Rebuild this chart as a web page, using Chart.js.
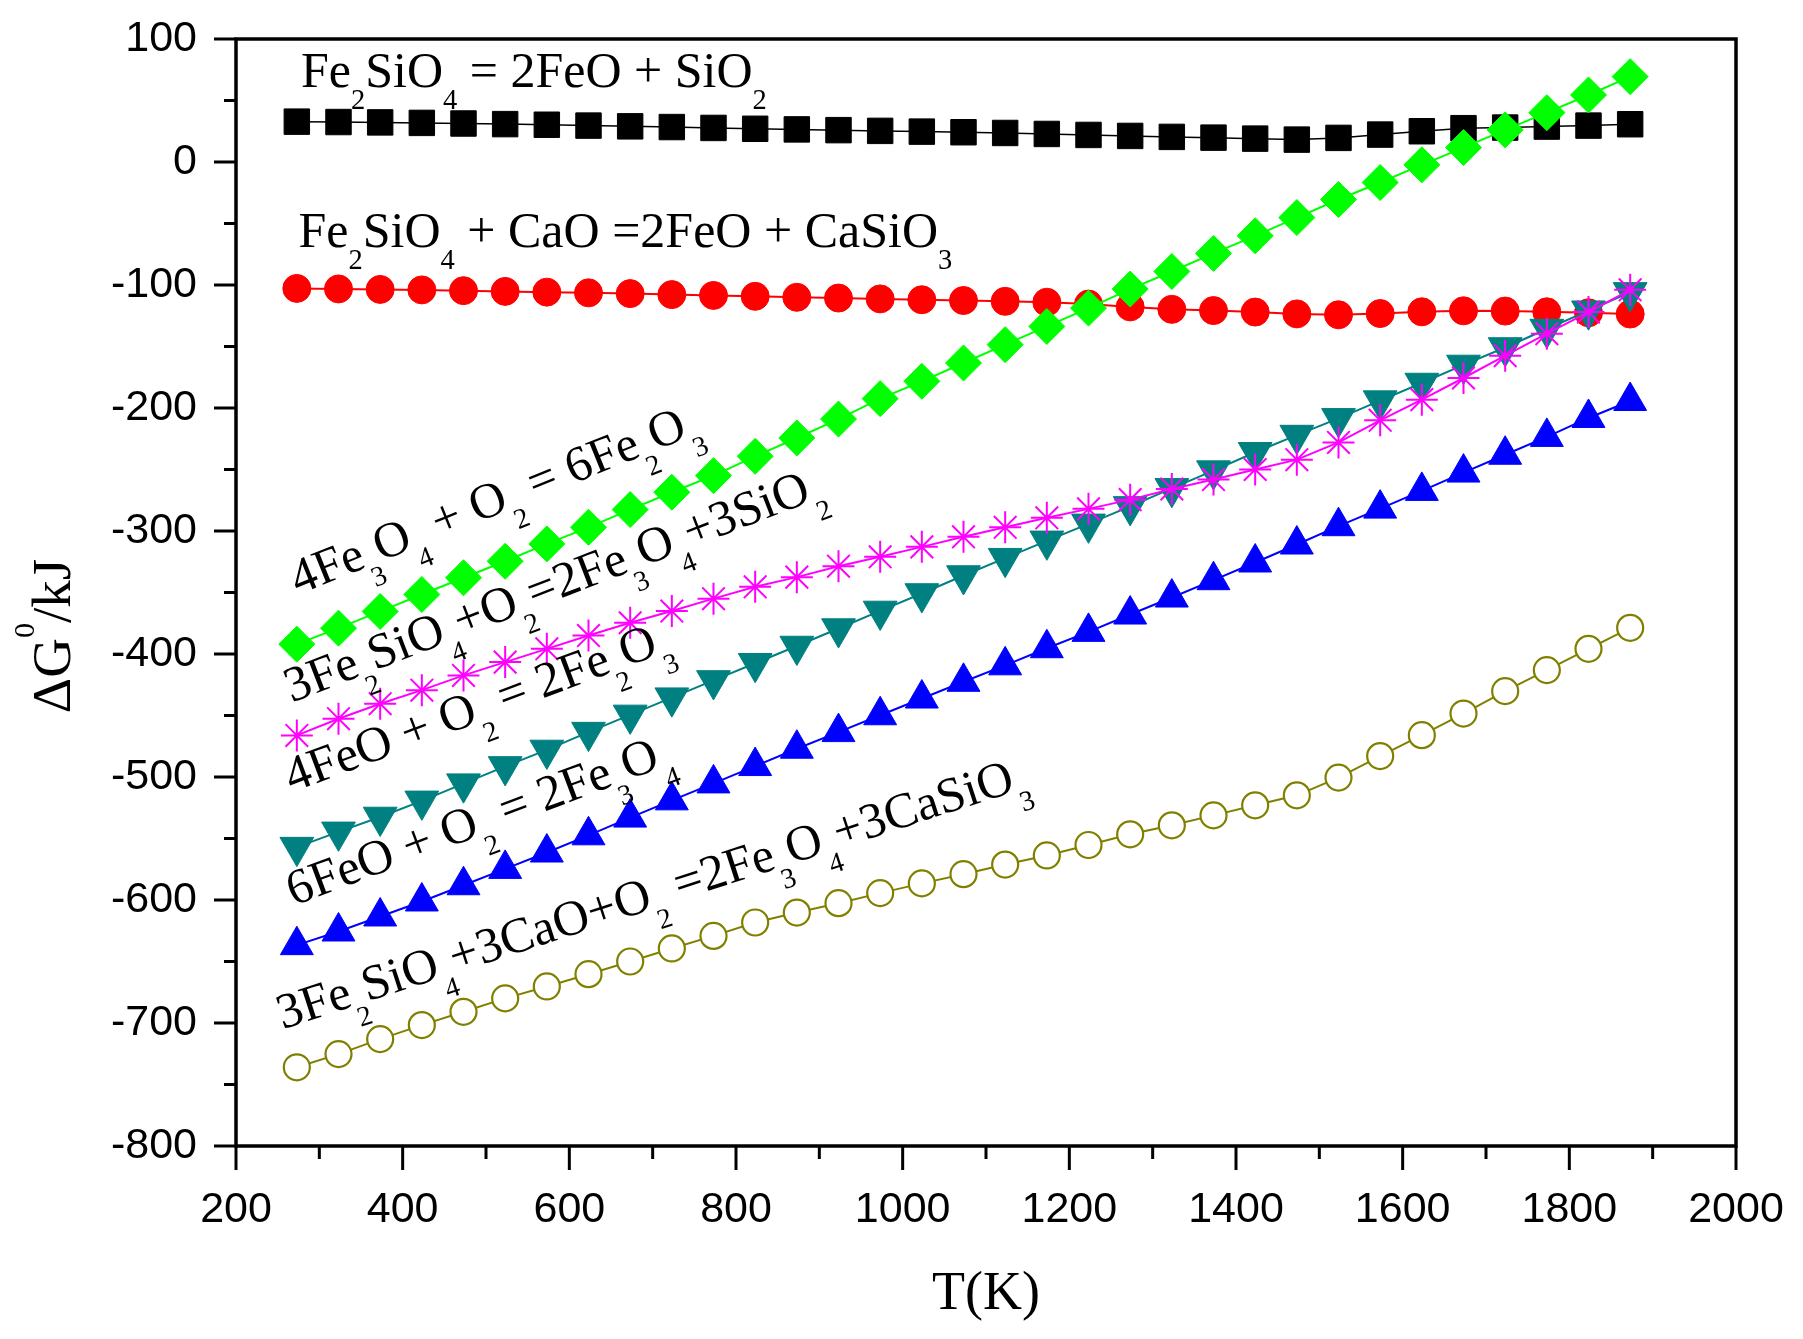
<!DOCTYPE html>
<html>
<head>
<meta charset="utf-8">
<script src="https://cdn.jsdelivr.net/npm/chart.js@4.4.1/dist/chart.umd.min.js"></script>
<style>
  html, body { margin: 0; padding: 0; background: #fff; }
  canvas { display: block; }
</style>
</head>
<body>
<canvas id="graficoG" width="1803" height="1339"></canvas>
<script>
// Temperaturas (K)
const temperaturas = [273, 323, 373, 423, 473, 523, 573, 623, 673, 723, 773, 823, 873, 923, 973, 1023,
  1073, 1123, 1173, 1223, 1273, 1323, 1373, 1423, 1473, 1523, 1573, 1623, 1673, 1723, 1773, 1823, 1873];

// ΔG0 (kJ) de cada reacción
const fe2sio4_feo_sio2 = [32.8, 32.5, 32.2, 31.8, 31.3, 30.8, 30.3, 29.6, 29.0, 28.4, 27.7, 27.0, 26.5, 25.9, 25.3, 24.7,
  24.2, 23.6, 22.8, 22.0, 21.2, 20.4, 19.8, 19.0, 18.2, 19.6, 22.3, 25.0, 27.5, 28.0, 28.8, 29.6, 30.7];
const fe2sio4_cao = [-102.8, -103.2, -103.6, -104.0, -104.6, -105.2, -105.8, -106.4, -107.0, -107.8, -108.5, -109.2, -110.0, -110.6, -111.3, -112.0,
  -112.6, -113.3, -114.0, -115.5, -117.8, -119.8, -120.8, -122.0, -123.5, -124.2, -123.2, -121.8, -121.0, -121.2, -121.8, -122.6, -123.6];
const fe3o4_fe2o3 = [-392.0, -379.0, -365.4, -351.6, -338.0, -324.6, -310.5, -297.0, -282.6, -268.5, -255.0, -239.3, -224.4, -209.0, -192.4, -178.3,
  -163.4, -148.5, -133.7, -118.8, -103.3, -89.0, -74.3, -60.0, -45.2, -30.5, -16.7, -2.3, 11.7, 26.1, 40.1, 54.5, 69.4];
const fe2sio4_fe3o4 = [-466.2, -452.6, -440.4, -429.4, -417.4, -406.6, -395.8, -385.0, -374.6, -365.1, -355.0, -345.4, -337.5, -328.6, -321.0, -312.9,
  -304.7, -297.0, -289.3, -282.0, -274.5, -265.8, -258.2, -250.0, -242.0, -228.0, -210.0, -193.2, -175.6, -157.5, -139.6, -122.0, -103.9];
const feo_fe2o3 = [-557.0, -544.6, -532.5, -519.4, -505.4, -491.4, -478.0, -463.5, -449.5, -435.5, -421.5, -407.5, -393.5, -379.3, -365.0, -350.8,
  -336.2, -322.1, -308.0, -294.2, -280.0, -265.3, -250.9, -236.0, -222.0, -208.4, -194.0, -179.7, -165.0, -150.8, -135.8, -120.9, -106.0];
const feo_fe3o4 = [-636.7, -625.6, -613.4, -601.2, -588.0, -574.7, -561.4, -547.4, -533.0, -519.0, -505.2, -491.1, -477.0, -463.5, -449.8, -436.2,
  -422.6, -409.2, -395.3, -382.0, -367.9, -354.1, -340.0, -325.6, -311.0, -296.1, -281.8, -267.4, -252.5, -238.0, -223.5, -208.1, -194.3];
const fe2sio4_cao_o2 = [-736.0, -725.3, -713.1, -701.7, -690.9, -680.0, -670.3, -660.3, -650.0, -639.4, -629.2, -618.3, -610.2, -602.6, -594.4, -586.5,
  -579.0, -571.2, -563.8, -555.3, -546.6, -539.3, -531.2, -523.0, -514.9, -500.5, -483.0, -466.0, -448.4, -430.2, -413.1, -395.8, -378.7];

// Textos de las reacciones ("_" = subíndice)
const reacciones = [
  'Fe_2SiO_4 = 2FeO + SiO_2',
  'Fe_2SiO_4 + CaO =2FeO + CaSiO_3',
  '4Fe_3O_4 + O_2 = 6Fe_2O_3',
  '3Fe_2SiO_4+O_2=2Fe_3O_4+3SiO_2',
  '4FeO + O_2 = 2Fe_2O_3',
  '6FeO + O_2 = 2Fe_3O_4',
  '3Fe_2SiO_4+3CaO+O_2 =2Fe_3O_4+3CaSiO_3'
];
// ubicación de cada texto (T, ΔG) y ángulo
const posReacciones = [
  [278, 60.8, 0],
  [275, -68.7, 0],
  [274.4, -352, -22],
  [267, -439.6, -21.2],
  [267, -512.7, -20.6],
  [269, -604.8, -20.6],
  [256, -705, -18]
];

const serif = '"Liberation Serif", "Times New Roman", serif';
const sans = '"Liberation Sans", Arial, sans-serif';

function pares(valores) {
  return temperaturas.map((t, i) => ({ x: t, y: valores[i] }));
}

// separa el texto en tramos normales / subíndice / superíndice
function tramos(str) {
  const out = [];
  let buf = '';
  for (let i = 0; i < str.length; i++) {
    const ch = str[i];
    if ((ch === '_' || ch === '^') && i + 1 < str.length) {
      if (buf) { out.push({ t: buf, k: 'n' }); buf = ''; }
      out.push({ t: str[++i], k: ch === '_' ? 'sub' : 'sup' });
    } else {
      buf += ch;
    }
  }
  if (buf) out.push({ t: buf, k: 'n' });
  return out;
}

function fuenteTramo(k, size, family) {
  if (k === 'sub') return (size * 0.57) + 'px ' + family;
  if (k === 'sup') return (size * 0.55) + 'px ' + family;
  return size + 'px ' + family;
}

function anchoTexto(ctx, str, size, family) {
  let w = 0;
  for (const tr of tramos(str)) {
    ctx.font = fuenteTramo(tr.k, size, family);
    w += ctx.measureText(tr.t).width;
  }
  return w;
}

function textoQuimico(ctx, str, x, y, size, angulo, family) {
  ctx.save();
  ctx.translate(x, y);
  ctx.rotate(angulo * Math.PI / 180);
  ctx.fillStyle = '#000';
  ctx.textAlign = 'left';
  ctx.textBaseline = 'alphabetic';
  let cx = 0;
  for (const tr of tramos(str)) {
    ctx.font = fuenteTramo(tr.k, size, family);
    const dy = tr.k === 'sub' ? size * 0.44 : (tr.k === 'sup' ? -size * 0.66 : 0);
    ctx.fillText(tr.t, cx, dy);
    cx += ctx.measureText(tr.t).width;
  }
  ctx.restore();
}

const marco = {
  id: 'marco',
  afterDatasetsDraw(chart) {
    const ctx = chart.ctx;
    const xs = chart.scales.x, ys = chart.scales.y;
    reacciones.forEach((txt, i) => {
      const [t, g, ang] = posReacciones[i];
      textoQuimico(ctx, txt, xs.getPixelForValue(t), ys.getPixelForValue(g), 50, ang, serif);
    });
  },
  afterDraw(chart) {
    const ctx = chart.ctx;
    const { left, right, top, bottom } = chart.chartArea;
    const xs = chart.scales.x, ys = chart.scales.y;
    ctx.save();
    ctx.strokeStyle = '#000';
    ctx.lineCap = 'square';
    ctx.lineWidth = 3.5;
    ctx.strokeRect(left, top, right - left, bottom - top);
    ctx.lineWidth = 3;
    ctx.lineCap = 'butt';
    ctx.beginPath();
    // marcas del eje x (mayores y menores)
    xs.ticks.forEach((tk, i) => {
      const p = xs.getPixelForValue(tk.value);
      ctx.moveTo(p, bottom); ctx.lineTo(p, bottom + 24);
      if (i < xs.ticks.length - 1) {
        const m = xs.getPixelForValue((tk.value + xs.ticks[i + 1].value) / 2);
        ctx.moveTo(m, bottom); ctx.lineTo(m, bottom + 13);
      }
    });
    // marcas del eje y
    ys.ticks.forEach((tk, i) => {
      const p = ys.getPixelForValue(tk.value);
      ctx.moveTo(left, p); ctx.lineTo(left - 22, p);
      if (i < ys.ticks.length - 1) {
        const m = ys.getPixelForValue((tk.value + ys.ticks[i + 1].value) / 2);
        ctx.moveTo(left, m); ctx.lineTo(left - 12, m);
      }
    });
    ctx.stroke();
    ctx.restore();

    // títulos de los ejes
    const tituloY = 'ΔG^0/kJ';
    const wy = anchoTexto(ctx, tituloY, 55, serif);
    textoQuimico(ctx, tituloY, 70, 636 + wy / 2, 55, -90, serif);
    ctx.save();
    ctx.font = '54px ' + serif;
    ctx.fillStyle = '#000';
    ctx.textAlign = 'center';
    ctx.textBaseline = 'alphabetic';
    ctx.fillText('T(K)', (left + right) / 2, 1309);
    ctx.restore();
  }
};

function serie(valores, color, estilo, extra) {
  return Object.assign({
    data: pares(valores),
    borderColor: color,
    borderWidth: 2,
    pointStyle: estilo,
    pointBackgroundColor: color,
    pointBorderColor: color,
    pointBorderWidth: 1,
    fill: false,
    tension: 0
  }, extra);
}

// sin relleno extra de Chart.js alrededor del área del gráfico
function sinRelleno(s) {
  s.paddingTop = 0; s.paddingBottom = 0; s.paddingLeft = 0; s.paddingRight = 0;
}

const ctx = document.getElementById('graficoG').getContext('2d');
new Chart(ctx, {
  type: 'line',
  data: {
    datasets: [
      serie(fe2sio4_feo_sio2, '#000000', 'rect', { pointRadius: 18, order: 7, borderWidth: 1.5 }),
      serie(fe2sio4_cao, '#ff0000', 'circle', { pointRadius: 14, order: 6 }),
      serie(fe3o4_fe2o3, '#00ff00', 'rectRot', { pointRadius: 18, order: 5 }),
      serie(feo_fe2o3, '#008080', 'triangle', { pointRadius: 19.5, pointRotation: 180, order: 4 }),
      serie(fe2sio4_fe3o4, '#ff00ff', 'star', { pointRadius: 16, pointBorderWidth: 2, order: 3 }),
      serie(feo_fe3o4, '#0000ff', 'triangle', { pointRadius: 19, order: 2 }),
      serie(fe2sio4_cao_o2, '#808000', 'circle', { pointRadius: 13, pointBackgroundColor: '#ffffff', pointBorderWidth: 2.2, order: 1 })
    ]
  },
  options: {
    responsive: false,
    animation: false,
    devicePixelRatio: 1,
    layout: { autoPadding: false, padding: { top: 39, right: 67, left: 0, bottom: 0 } },
    plugins: {
      legend: { display: false },
      tooltip: { enabled: false }
    },
    scales: {
      x: {
        type: 'linear',
        min: 200,
        max: 2000,
        ticks: { stepSize: 200, padding: 38, color: '#000', maxRotation: 0, autoSkip: false,
          font: { family: sans, size: 43 }, callback: (v) => String(v) },
        grid: { display: false, drawTicks: false },
        border: { display: false },
        afterFit(s) { s.height = 193; sinRelleno(s); }
      },
      y: {
        min: -800,
        max: 100,
        ticks: { stepSize: 100, padding: 39, color: '#000', font: { family: sans, size: 43 },
          callback: (v) => String(v) },
        grid: { display: false, drawTicks: false },
        border: { display: false },
        afterFit(s) { s.width = 236; sinRelleno(s); }
      }
    }
  },
  plugins: [marco]
});
</script>
</body>
</html>
